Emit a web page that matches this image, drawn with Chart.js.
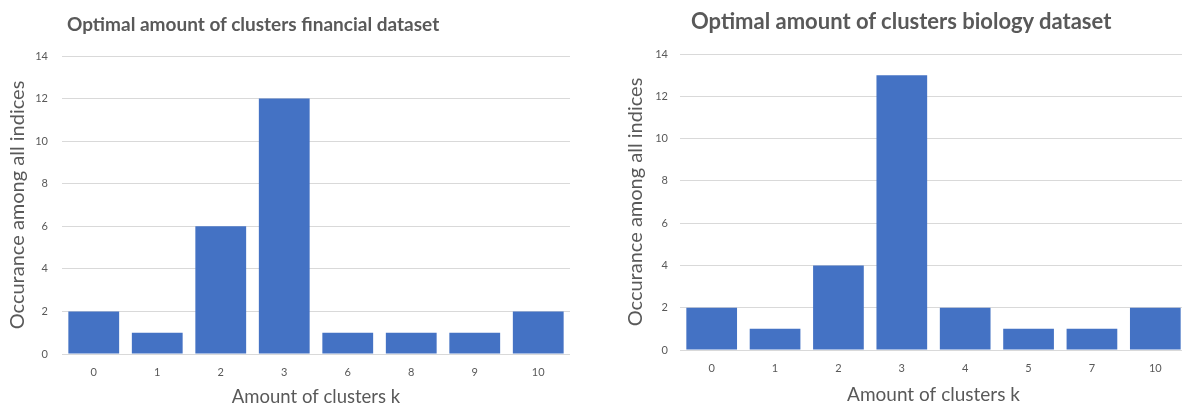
<!DOCTYPE html>
<html>
<head>
<meta charset="utf-8">
<script src="https://cdn.jsdelivr.net/npm/chart.js@4.4.1/dist/chart.umd.min.js"></script>
<style>
  html, body { margin: 0; padding: 0; background: #fff; overflow: hidden; }
  body { width: 1182px; height: 406px; position: relative; }
  .panel { position: absolute; top: 0; height: 406px; }
  .title {
    position: absolute; white-space: nowrap;
    font-family: Lato, "Noto Sans", sans-serif; font-weight: bold;
    color: #595959; line-height: 26px;
  }
</style>
</head>
<body>
<div class="panel" id="p1" style="left:0;width:590px"><canvas id="c1"></canvas></div>
<div class="panel" id="p2" style="left:600px;width:600px"><canvas id="c2"></canvas></div>
<div class="title" style="left:67px;top:11px;font-size:19px">Optimal amount of clusters financial dataset</div>
<div class="title" style="left:691px;top:8px;font-size:22px">Optimal amount of clusters biology dataset</div>
<script>
// Financial dataset: how many indices picked each k
const financialK = ['0', '1', '2', '3', '6', '8', '9', '10'];
const financialCounts = [2, 1, 6, 12, 1, 1, 1, 2];

// Biology dataset: how many indices picked each k
const biologyK = ['0', '1', '2', '3', '4', '5', '7', '10'];
const biologyCounts = [2, 1, 4, 13, 2, 1, 1, 2];

const yTicks = [0, 2, 4, 6, 8, 10, 12, 14];

const xTitle = 'Amount of clusters k';
const yTitle = 'Occurance among all indices';

const GRAY = '#595959';
const GRID = '#d9d9d9';
const BAR = '#4472C4';
const FONT = 'Lato, "Noto Sans", sans-serif';

function makeChart(id, cfg) {
  const el = document.getElementById(id);
  const panel = el.parentElement;
  el.width = panel.clientWidth;
  el.height = 406;
  el.style.width = panel.clientWidth + 'px';
  el.style.height = '406px';
  return new Chart(el, {
    type: 'bar',
    data: {
      labels: cfg.labels,
      datasets: [{
        data: cfg.values,
        backgroundColor: BAR,
        borderWidth: 0,
        barPercentage: 0.8,
        categoryPercentage: 1.0
      }]
    },
    options: {
      responsive: false,
      animation: false,
      devicePixelRatio: 1,
      layout: { padding: { left: 0, right: cfg.padRight, top: cfg.padTop, bottom: 0 } },
      plugins: { legend: { display: false }, tooltip: { enabled: false }, title: { display: false } },
      scales: {
        x: {
          grid: { display: false, drawTicks: false },
          border: { display: false },
          ticks: { color: GRAY, font: { family: FONT, size: 11 }, padding: 12, maxRotation: 0 },
          title: {
            display: true, text: xTitle, color: GRAY,
            font: { family: FONT, size: cfg.xTitleSize, lineHeight: 1 },
            padding: { top: 0, bottom: cfg.xTitlePadBottom }
          },
          afterFit: s => { s.height = cfg.xHeight; }
        },
        y: {
          min: 0, max: 14,
          afterBuildTicks: s => { s.ticks = yTicks.map(v => ({ value: v })); },
          grid: { color: GRID, lineWidth: 1, drawTicks: false },
          border: { display: false },
          ticks: { color: GRAY, font: { family: FONT, size: 11 }, padding: cfg.yTickPad },
          title: {
            display: true, text: yTitle, color: GRAY,
            font: { family: FONT, size: 20, lineHeight: 1.2 },
            padding: { top: cfg.yTitlePadTop, bottom: 0 }
          },
          afterFit: s => { s.width = cfg.yWidth; }
        }
      }
    }
  });
}

makeChart('c1', {
  labels: financialK, values: financialCounts,
  padRight: 20, padTop: 56, xHeight: 52, yWidth: 62,
  yTickPad: 14, yTitlePadTop: 6, xTitlePadBottom: 0, xTitleSize: 18.5
});

makeChart('c2', {
  labels: biologyK, values: biologyCounts,
  padRight: 13, padTop: 54, xHeight: 56, yWidth: 80,
  yTickPad: 12, yTitlePadTop: 24, xTitlePadBottom: 2, xTitleSize: 19
});
</script>
</body>
</html>
